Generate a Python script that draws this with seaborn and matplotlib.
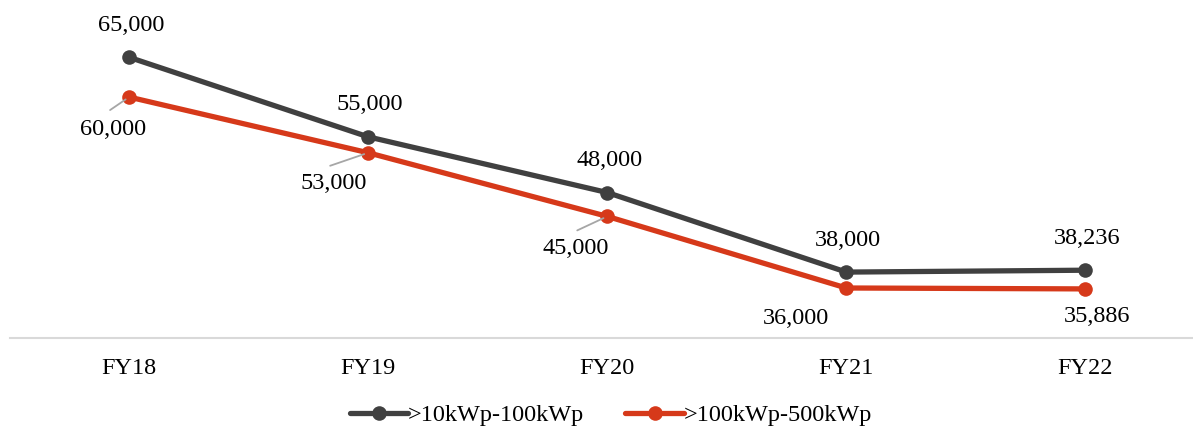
import pandas as pd
import matplotlib
matplotlib.use("Agg")
import matplotlib.pyplot as plt
import seaborn as sns

# Datos
years = ["FY18", "FY19", "FY20", "FY21", "FY22"]
small_kwp = [65000, 55000, 48000, 38000, 38236]
mid_kwp = [60000, 53000, 45000, 36000, 35886]
series_names = [">10kWp-100kWp", ">100kWp-500kWp"]
colors = ["#404040", "#d6391a"]

df = pd.DataFrame({
    "year": years * 2,
    "value": small_kwp + mid_kwp,
    "series": [series_names[0]] * len(years) + [series_names[1]] * len(years),
})

sns.set_style("white")
plt.rcParams["font.family"] = ["Liberation Serif", "DejaVu Serif"]
plt.rcParams["text.color"] = "black"
plt.rcParams["xtick.color"] = "black"

fig = plt.figure(figsize=(11.93, 4.28), dpi=100)
ax = fig.add_axes([0.008, 0.21, 0.992, 0.79])

sns.lineplot(data=df, x="year", y="value", hue="series", palette=colors,
             marker="o", markersize=10.5, markeredgewidth=0, linewidth=3.8,
             sort=False, ax=ax)

ax.set_xlim(-0.5, 4.45)
ax.set_ylim(29700, 72200)
ax.set_xlabel("")
ax.set_ylabel("")
ax.set_yticks([])
for s in ["top", "left", "right"]:
    ax.spines[s].set_visible(False)
ax.spines["bottom"].set_color("#d9d9d9")
ax.spines["bottom"].set_linewidth(1.5)
ax.tick_params(axis="x", length=0, pad=14, labelsize=17.5, labelcolor="black")

# Etiquetas de la serie gris (encima)
for i, v in enumerate(small_kwp):
    ax.annotate(f"{v:,}", (i, v), xytext=(2, 32), textcoords="offset pixels",
                ha="center", va="center", fontsize=17.5, color="black")

# Etiquetas de la serie roja (debajo)
red_offsets = [(-16, -32), (-34, -31), (-32, -32), (-50, -31), (12, -28)]
for i, v in enumerate(mid_kwp):
    dx, dy = red_offsets[i]
    ax.annotate(f"{v:,}", (i, v), xytext=(dx, dy), textcoords="offset pixels",
                ha="center", va="center", fontsize=17.5, color="black")

# Lineas guia grises
guide_ends = [(-19, -13), (-38, -13), (-30, -14)]
for i, (gx, gy) in enumerate(guide_ends):
    ax.annotate("", (i, mid_kwp[i]), xytext=(gx, gy), textcoords="offset pixels",
                arrowprops=dict(arrowstyle="-", color="#a6a6a6", lw=1.3,
                                shrinkA=0, shrinkB=3))

handles, labels = ax.get_legend_handles_labels()
leg = ax.legend(handles, labels, loc="center", bbox_to_anchor=(0.512, 0.03),
                bbox_transform=fig.transFigure, ncol=2, frameon=False,
                fontsize=17.5, handlelength=2.4, handletextpad=0.0,
                columnspacing=1.7)
for t in leg.get_texts():
    t.set_color("black")

plt.savefig("out.png", dpi=100)
